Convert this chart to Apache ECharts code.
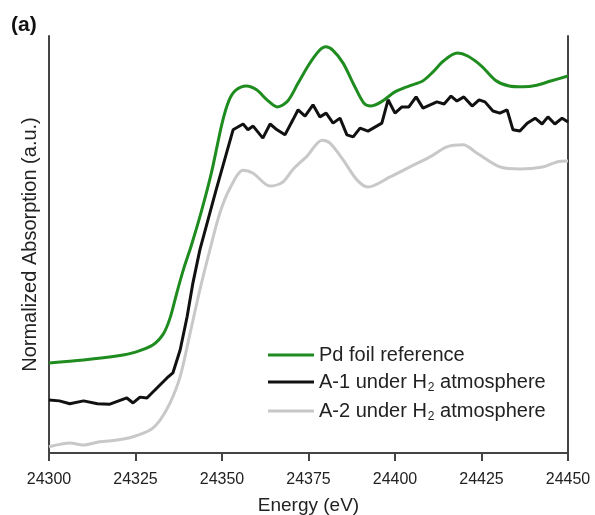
<!DOCTYPE html>
<html>
<head>
    <meta charset="utf-8">
    <title>Pd K-edge XANES</title>
    <script src="https://cdn.jsdelivr.net/npm/echarts@6/dist/echarts.min.js"></script>
    <style>
        body { margin: 0; background: #fff; }
        #main { width: 595px; height: 515px; }
    </style>
</head>
<body>
    <div id="main"></div>
    <script type="text/javascript">
        // Pd foil reference
        var pdE = [24300, 24310, 24320, 24325, 24330, 24333, 24335, 24337, 24339, 24341, 24344, 24347, 24350, 24352, 24354, 24357, 24360, 24363, 24366, 24369, 24372, 24375, 24378, 24380, 24382, 24385, 24388, 24391, 24393, 24396, 24400, 24404, 24408, 24411, 24414, 24418, 24421, 24425, 24429, 24433, 24437, 24441, 24445, 24450];
        var pdY = [0.216, 0.223, 0.233, 0.242, 0.259, 0.285, 0.324, 0.386, 0.444, 0.494, 0.578, 0.674, 0.790, 0.845, 0.870, 0.880, 0.871, 0.847, 0.830, 0.844, 0.887, 0.930, 0.964, 0.974, 0.966, 0.935, 0.885, 0.839, 0.832, 0.842, 0.866, 0.880, 0.892, 0.914, 0.940, 0.959, 0.952, 0.928, 0.894, 0.880, 0.878, 0.882, 0.892, 0.904];

        // A-1 under H2
        var a1E = [24300, 24303, 24306, 24310, 24314, 24317.6, 24322.5, 24324.3, 24326.3, 24328.3, 24331.2, 24334.1, 24335.8, 24337.9, 24339.9, 24341.6, 24343.6, 24348.3, 24353.2, 24356.1, 24357.5, 24359, 24361.8, 24363.9, 24365.9, 24368.2, 24370.5, 24372, 24374, 24376.3, 24378.3, 24380.1, 24382.1, 24384.1, 24386.1, 24387.9, 24389.9, 24392.2, 24396.2, 24398, 24400, 24402, 24404, 24406.1, 24408.1, 24412.1, 24414.2, 24416.2, 24417.9, 24419.9, 24422.3, 24424.3, 24426, 24428.3, 24430.3, 24432.4, 24434.1, 24436.1, 24438.2, 24440.5, 24442.5, 24444.2, 24446.2, 24448.3, 24450];
        var a1Y = [0.127, 0.125, 0.118, 0.125, 0.118, 0.117, 0.132, 0.120, 0.134, 0.132, 0.156, 0.180, 0.192, 0.247, 0.326, 0.408, 0.487, 0.631, 0.775, 0.789, 0.775, 0.784, 0.755, 0.789, 0.775, 0.763, 0.799, 0.823, 0.808, 0.835, 0.806, 0.815, 0.791, 0.803, 0.763, 0.758, 0.779, 0.772, 0.791, 0.847, 0.815, 0.830, 0.830, 0.854, 0.827, 0.842, 0.837, 0.856, 0.844, 0.854, 0.832, 0.847, 0.842, 0.820, 0.815, 0.823, 0.775, 0.772, 0.791, 0.803, 0.789, 0.806, 0.789, 0.803, 0.794];

        // A-2 under H2
        var a2E = [24300, 24306.1, 24309.8, 24314.7, 24319.7, 24324.3, 24329.2, 24332.1, 24335, 24337.9, 24340.8, 24343.6, 24346.5, 24349.4, 24352.3, 24356.1, 24359, 24363.9, 24367.6, 24370.5, 24374.6, 24378.9, 24381.2, 24385, 24389, 24392.2, 24398.6, 24404.3, 24410.1, 24415, 24419.7, 24423.7, 24430.3, 24436.1, 24442.7, 24446.8, 24450];
        var a2Y = [0.015, 0.024, 0.019, 0.027, 0.031, 0.039, 0.055, 0.079, 0.120, 0.183, 0.288, 0.391, 0.487, 0.576, 0.635, 0.678, 0.671, 0.640, 0.650, 0.680, 0.712, 0.750, 0.743, 0.703, 0.655, 0.638, 0.662, 0.686, 0.710, 0.734, 0.739, 0.719, 0.686, 0.681, 0.686, 0.698, 0.700];

        var xTicks = [24300, 24325, 24350, 24375, 24400, 24425, 24450];
        var seriesNames = ['Pd foil reference', 'A-1 under H2 atmosphere', 'A-2 under H2 atmosphere'];

        function pairs(xs, ys) {
            return xs.map(function (x, i) { return [x, ys[i]]; });
        }

        var myChart = echarts.init(document.getElementById('main'));
        var axisColor = '#444';
        var font = 'Liberation Sans, Arial, sans-serif';

        var option = {
            animation: false,
            graphic: [{
                type: 'text', left: 11, top: 15,
                style: { text: '(a)', font: 'bold 21px ' + font, fill: '#111' }
            }],
            grid: { left: 49, right: 27, top: 36, bottom: 62, outerBoundsMode: 'none' },
            legend: {
                orient: 'vertical',
                left: 268, top: 345, padding: 0,
                icon: 'rect',
                itemWidth: 46, itemHeight: 3, itemGap: 7,
                data: seriesNames,
                formatter: function (name) {
                    if (name.indexOf('H2') < 0) return '{a|' + name + '}';
                    var parts = name.split('H2');
                    return '{a|' + parts[0] + 'H}{s|2}{a|' + parts[1] + '}';
                },
                textStyle: {
                    rich: {
                        a: { fontSize: 20, fontFamily: font, color: '#222' },
                        s: { fontSize: 12, fontFamily: font, color: '#222', padding: [12, 0, 0, 1] }
                    }
                }
            },
            xAxis: [{
                type: 'value',
                min: 24300, max: 24450, interval: 25,
                name: 'Energy (eV)',
                nameLocation: 'middle', nameGap: 43,
                nameTextStyle: { fontSize: 19, fontFamily: font, color: '#222' },
                axisLine: { lineStyle: { color: axisColor, width: 2 } },
                axisTick: { inside: false, length: 8, lineStyle: { color: axisColor, width: 2 } },
                axisLabel: {
                    margin: 19, fontSize: 16, fontFamily: font, color: '#222',
                    formatter: function (v) { return xTicks.indexOf(v) >= 0 ? String(v) : ''; }
                },
                splitLine: { show: false }
            }, {
                type: 'value', position: 'top',
                min: 24300, max: 24450, interval: 25,
                axisLine: { lineStyle: { color: axisColor, width: 2 } },
                axisTick: { inside: true, length: 7, lineStyle: { color: axisColor, width: 2 } },
                axisLabel: { show: false },
                splitLine: { show: false }
            }],
            yAxis: [{
                type: 'value', min: 0, max: 1,
                name: 'Normalized Absorption (a.u.)',
                nameLocation: 'middle', nameGap: 9,
                nameTextStyle: { fontSize: 20, fontFamily: font, color: '#222' },
                axisLine: { show: true, lineStyle: { color: axisColor, width: 2 } },
                axisTick: { show: false },
                axisLabel: { show: false },
                splitLine: { show: false }
            }, {
                type: 'value', min: 0, max: 1, position: 'right',
                axisLine: { show: true, lineStyle: { color: axisColor, width: 2 } },
                axisTick: { show: false },
                axisLabel: { show: false },
                splitLine: { show: false }
            }],
            series: [{
                name: seriesNames[0], type: 'line', symbol: 'none', smooth: 0.3,
                data: pairs(pdE, pdY),
                lineStyle: { color: '#1e8c1e', width: 3 },
                itemStyle: { color: '#1e8c1e' }
            }, {
                name: seriesNames[1], type: 'line', symbol: 'none',
                data: pairs(a1E, a1Y),
                lineStyle: { color: '#111', width: 3 },
                itemStyle: { color: '#111' }
            }, {
                name: seriesNames[2], type: 'line', symbol: 'none', smooth: 0.3,
                data: pairs(a2E, a2Y),
                lineStyle: { color: '#c8c8c8', width: 3 },
                itemStyle: { color: '#c8c8c8' }
            }]
        };

        myChart.setOption(option);
    </script>
</body>
</html>
